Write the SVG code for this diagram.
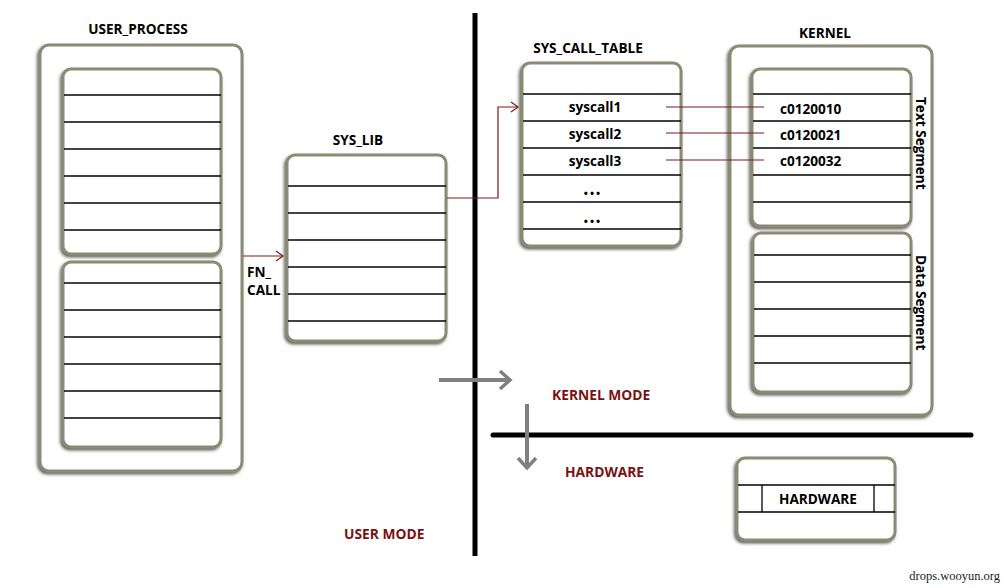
<svg xmlns="http://www.w3.org/2000/svg" width="1006" height="588" viewBox="0 0 1006 588">
<style>
.box{fill:#fff;stroke:#8a8a74;stroke-width:3;filter:url(#sh)}
.row{stroke:#000;stroke-width:1.3}
.lbl{font-family:"Open Sans","Liberation Sans",sans-serif;font-weight:bold;font-size:13.6px;fill:#000}
.cell{font-family:"Open Sans","Liberation Sans",sans-serif;font-weight:bold;font-size:13.6px;fill:#000;text-anchor:middle}
.dots{font-family:"Open Sans","Liberation Sans",sans-serif;font-weight:bold;font-size:11px;fill:#000;text-anchor:middle;letter-spacing:2px}
.mode{font-family:"Open Sans","Liberation Sans",sans-serif;font-weight:bold;font-size:13.8px;fill:#7a1212}
.red{stroke:#7a1a1a;stroke-width:1.2;fill:none}
.gray{stroke:#808080;stroke-width:4;fill:none}
</style>
<defs>
<filter id="sh" x="-10%" y="-10%" width="120%" height="120%">
<feDropShadow dx="-1.5" dy="2" stdDeviation="1.4" flood-color="#4a4a40" flood-opacity="0.85"/>
</filter>
<marker id="ra" markerWidth="10" markerHeight="12" refX="8" refY="6" orient="auto" markerUnits="userSpaceOnUse">
<path d="M1,1 L8,6 L1,11" fill="none" stroke="#7a1a1a" stroke-width="1.2"/>
</marker>
<marker id="ga" markerWidth="16" markerHeight="22" refX="12" refY="11" orient="auto" markerUnits="userSpaceOnUse">
<path d="M2,2 L12,11 L2,20" fill="none" stroke="#808080" stroke-width="3.5"/>
</marker>
</defs>
<rect width="1006" height="588" fill="#fff"/>

<g id="dividers">
<line x1="475" y1="13" x2="475" y2="556" stroke="#000" stroke-width="5"/>
<line x1="493" y1="435" x2="971" y2="435" stroke="#000" stroke-width="5" stroke-linecap="round"/>
</g>

<g id="user_process">
<text class="lbl" x="138" y="34" text-anchor="middle">USER_PROCESS</text>
<rect class="box" x="40" y="45" width="202" height="426" rx="9"/>
<rect class="box" x="63" y="69" width="158" height="185" rx="8"/>
<rect class="box" x="63" y="262" width="158" height="185" rx="8"/>
<g class="row">
<line x1="64" y1="95" x2="221" y2="95"/><line x1="64" y1="122" x2="221" y2="122"/>
<line x1="64" y1="149" x2="221" y2="149"/><line x1="64" y1="176" x2="221" y2="176"/>
<line x1="64" y1="203" x2="221" y2="203"/><line x1="64" y1="230" x2="221" y2="230"/>
<line x1="64" y1="283" x2="221" y2="283"/><line x1="64" y1="310" x2="221" y2="310"/>
<line x1="64" y1="337" x2="221" y2="337"/><line x1="64" y1="364" x2="221" y2="364"/>
<line x1="64" y1="391" x2="221" y2="391"/><line x1="64" y1="418" x2="221" y2="418"/>
</g>
</g>

<g id="sys_lib">
<text class="lbl" x="358" y="145" text-anchor="middle">SYS_LIB</text>
<rect class="box" x="287" y="155" width="159" height="186" rx="8"/>
<g class="row">
<line x1="288" y1="186" x2="446" y2="186"/><line x1="288" y1="213" x2="446" y2="213"/>
<line x1="288" y1="240" x2="446" y2="240"/><line x1="288" y1="267" x2="446" y2="267"/>
<line x1="288" y1="294" x2="446" y2="294"/><line x1="288" y1="321" x2="446" y2="321"/>
</g>
</g>

<g id="fn_call_label">
<text class="lbl" x="247" y="277">FN_</text>
<text class="lbl" x="247" y="295">CALL</text>
</g>

<g id="sys_call_table">
<text class="lbl" x="588" y="53" text-anchor="middle">SYS_CALL_TABLE</text>
<rect class="box" x="522" y="63" width="159" height="183" rx="8"/>
<g class="row">
<line x1="523" y1="94" x2="681" y2="94"/><line x1="523" y1="121" x2="681" y2="121"/>
<line x1="523" y1="148" x2="681" y2="148"/><line x1="523" y1="175" x2="681" y2="175"/>
<line x1="523" y1="202" x2="681" y2="202"/><line x1="523" y1="229" x2="681" y2="229"/>
</g>
<text class="cell" x="595" y="112">syscall1</text>
<text class="cell" x="595" y="139">syscall2</text>
<text class="cell" x="595" y="166">syscall3</text>
<text class="dots" x="593" y="197">•••</text>
<text class="dots" x="593" y="225">•••</text>
</g>

<g id="kernel">
<text class="lbl" x="825" y="38" text-anchor="middle">KERNEL</text>
<rect class="box" x="730" y="46" width="202" height="369" rx="9"/>
<rect class="box" x="752" y="69" width="159" height="157" rx="8"/>
<rect class="box" x="753" y="233" width="158" height="159" rx="8"/>
<g class="row">
<line x1="753" y1="94" x2="911" y2="94"/><line x1="753" y1="121" x2="911" y2="121"/>
<line x1="753" y1="148" x2="911" y2="148"/><line x1="753" y1="175" x2="911" y2="175"/>
<line x1="753" y1="202" x2="911" y2="202"/>
<line x1="754" y1="255" x2="911" y2="255"/><line x1="754" y1="282" x2="911" y2="282"/>
<line x1="754" y1="309" x2="911" y2="309"/><line x1="754" y1="336" x2="911" y2="336"/>
<line x1="754" y1="363" x2="911" y2="363"/>
</g>
<text class="lbl" x="780" y="114">c0120010</text>
<text class="lbl" x="780" y="140">c0120021</text>
<text class="lbl" x="780" y="166">c0120032</text>
<text class="lbl" transform="translate(916,97) rotate(90)">Text Segment</text>
<text class="lbl" transform="translate(916,255) rotate(90)">Data Segment</text>
</g>

<g id="hardware">
<rect class="box" x="737" y="458" width="158" height="82" rx="8"/>
<g class="row">
<line x1="738" y1="485" x2="895" y2="485"/><line x1="738" y1="512" x2="895" y2="512"/>
<line x1="762" y1="485" x2="762" y2="512"/><line x1="874" y1="485" x2="874" y2="512"/>
</g>
<text class="cell" x="818" y="504">HARDWARE</text>
</g>

<g id="connectors">
<line class="red" x1="243" y1="256" x2="283" y2="256" marker-end="url(#ra)"/>
<polyline class="red" points="447,198 498,198 498,107 518,107" marker-end="url(#ra)"/>
<line class="red" x1="666" y1="107" x2="764" y2="107"/>
<line class="red" x1="666" y1="133" x2="764" y2="133"/>
<line class="red" x1="666" y1="160" x2="764" y2="160"/>
<line class="gray" x1="439" y1="380" x2="510" y2="380" marker-end="url(#ga)"/>
<line class="gray" x1="527" y1="404" x2="527" y2="468" marker-end="url(#ga)"/>
</g>

<g id="mode_labels">
<text class="mode" x="552" y="400">KERNEL MODE</text>
<text class="mode" x="565" y="477">HARDWARE</text>
<text class="mode" x="344" y="539">USER MODE</text>
</g>

<text x="1000" y="580" text-anchor="end" font-family="Liberation Serif, serif" font-size="12.5" fill="#222">drops.wooyun.org</text>
</svg>
